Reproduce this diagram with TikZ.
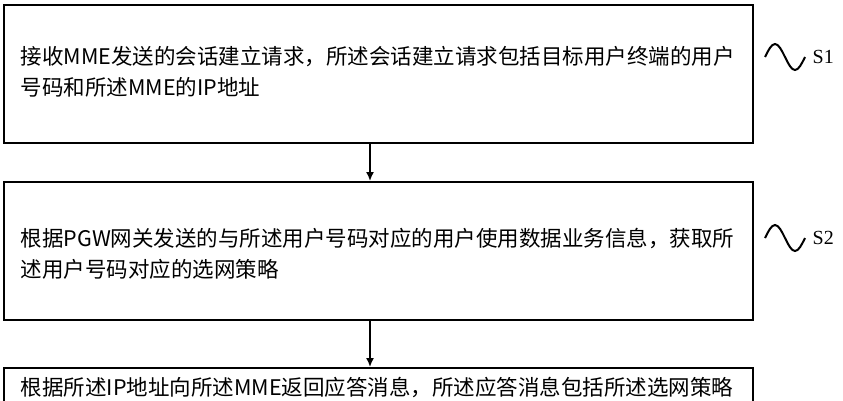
\documentclass[tikz,border=0pt]{standalone}
\usepackage{fontspec}
\usetikzlibrary{arrows.meta}
\newfontfamily\cjk{Noto Sans CJK SC}
\setmainfont{Liberation Serif}
\begin{document}
\begin{tikzpicture}[x=1pt,y=-1pt,thick,
  stepbox/.style={draw,line width=2.2pt,minimum width=749pt,minimum height=138pt,
    anchor=north west,inner sep=0pt},
  steptext/.style={anchor=north west,align=left,font=\cjk\fontsize{21.5pt}{31pt}\selectfont},
  tag/.style={font=\fontsize{20pt}{22pt}\selectfont,anchor=west}]
  \clip (0,0) rectangle (843,400);
  \fill[white] (0,0) rectangle (843,400);
  % steps
  \node[stepbox] (s1) at (3,4) {};
  \node[stepbox] (s2) at (3,181) {};
  \node[stepbox] (s3) at (3,367) {};
  \node[steptext] (t1) at (17,43) {接收MME发送的会话建立请求，所述会话建立请求包括目标用户终端的用户\\号码和所述MME的IP地址};
  \node[steptext] (t2) at (17,224) {根据PGW网关发送的与所述用户号码对应的用户使用数据业务信息，获取所\\述用户号码对应的选网策略};
  \node[steptext] (t3) at (17,373) {根据所述IP地址向所述MME返回应答消息，所述应答消息包括所述选网策略};
  \draw[line width=1.6pt,-{Latex[length=9pt,width=8pt]}] (s1.south -| 370,0) -- (s2.north -| 370,0);
  \draw[line width=1.6pt,-{Latex[length=9pt,width=8pt]}] (s2.south -| 370,0) -- (s3.north -| 370,0);
  % labels
  \foreach \y/\s in {57/1,238/2}{
    \draw[line width=2pt] (765,\y) sin (775,\y-13) cos (785,\y) sin (795,\y+13) cos (805,\y);
    \node[tag] (l\s) at (809,\y) {S\s};
  }
\end{tikzpicture}
\end{document}
